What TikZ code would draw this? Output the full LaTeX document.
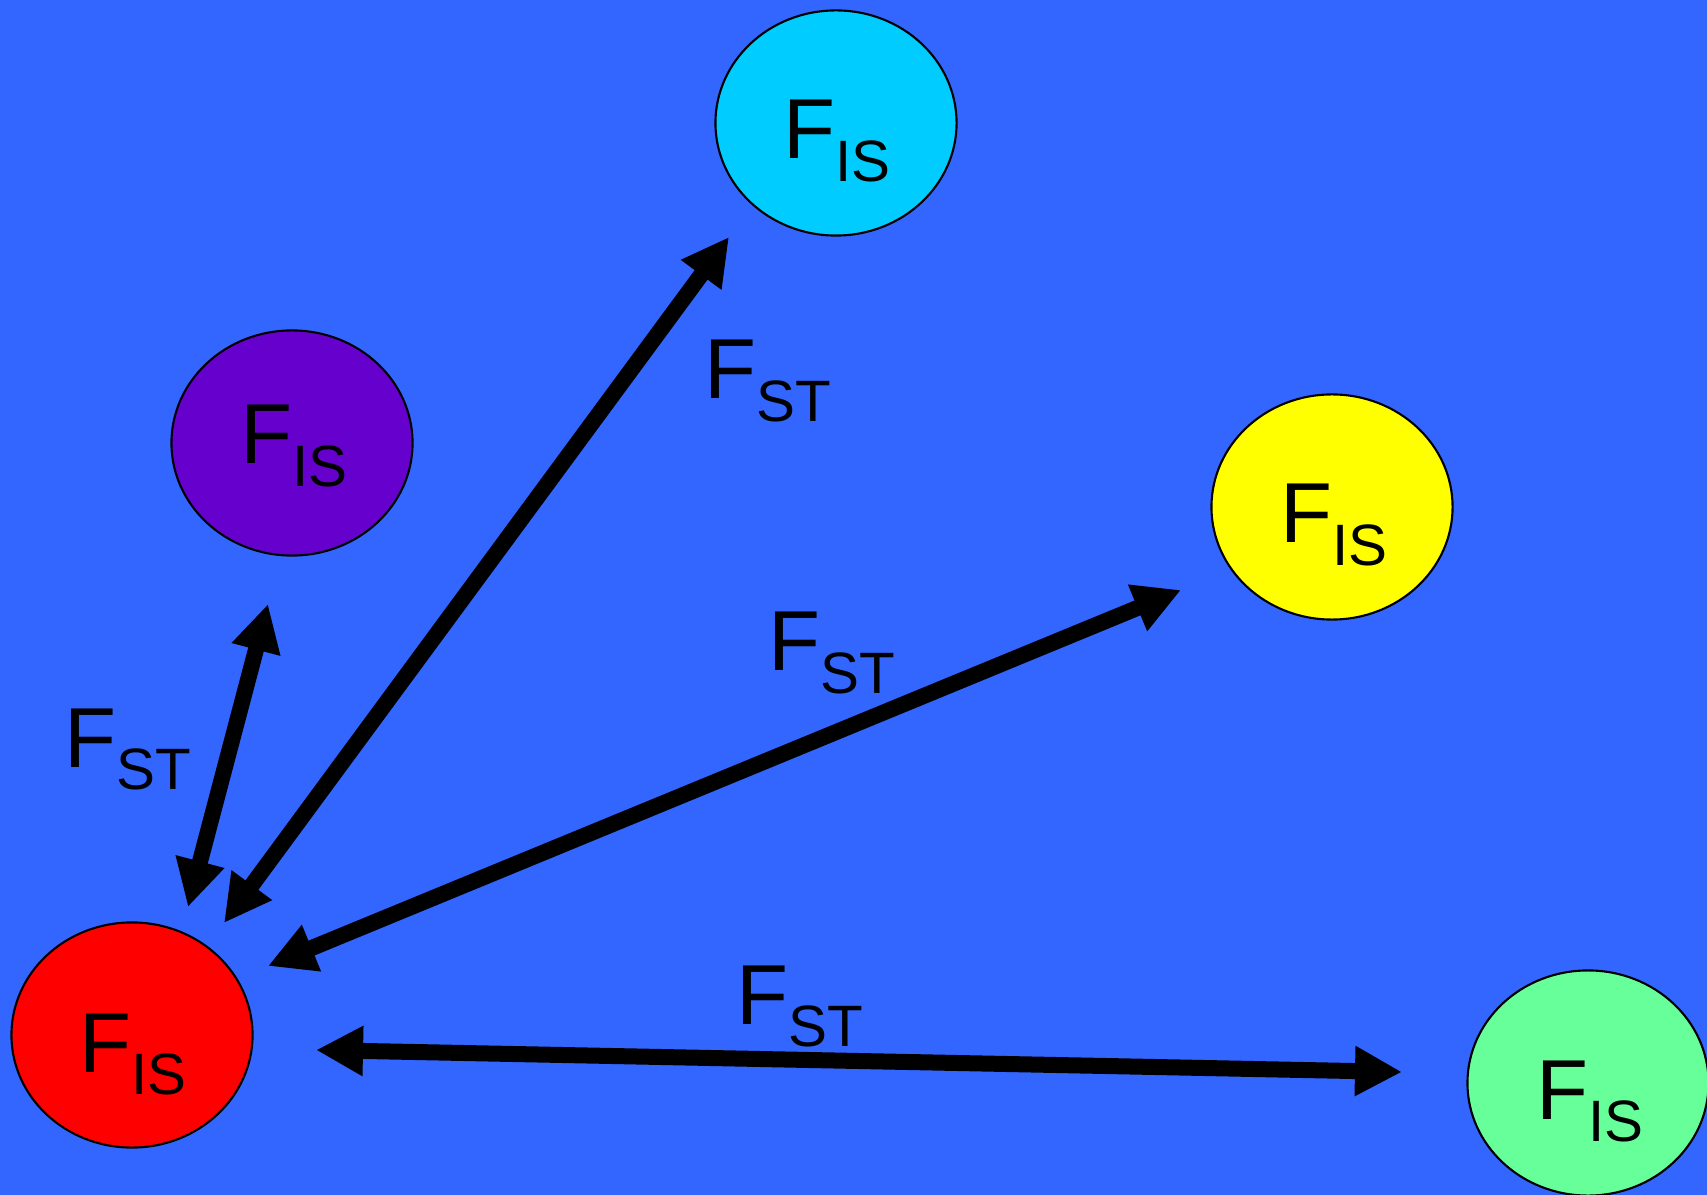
\documentclass[tikz,border=0pt]{standalone}
\usepackage{fontspec}
\setmainfont{Liberation Sans}
\usepackage{tikz}
\usetikzlibrary{arrows.meta,shapes.geometric}
\definecolor{bg}{HTML}{3366FF}
\definecolor{cy}{HTML}{00CCFF}
\definecolor{pu}{HTML}{6600CC}
\definecolor{ye}{HTML}{FFFF00}
\definecolor{rd}{HTML}{FF0000}
\definecolor{gn}{HTML}{66FF99}
\newcommand{\bigF}{\fontsize{24.2}{26}\selectfont F}
\newcommand{\subtxt}[1]{\raisebox{-0.22cm}{\fontsize{16.6}{18}\selectfont #1}}

\begin{document}
\begin{tikzpicture}[x=0.01cm,y=-0.01cm,
  pop/.style={ellipse,draw=black,line width=0.6pt,minimum width=2.41cm,minimum height=2.25cm,inner sep=0pt},
  lbl/.style={anchor=base west,inner sep=0pt},
  link/.style={{Triangle[length=0.47cm,width=0.47cm]}-{Triangle[length=0.47cm,width=0.47cm]},line width=0.16cm}]
  \useasboundingbox (0,0) rectangle (1707,1195);
  \fill[bg] (0,0) rectangle (1707,1195);
  \clip (0,0) rectangle (1707,1195);
  % populations
  \foreach \n/\x/\y/\c in {cyan/836/123/cy,purple/292/443/pu,yellow/1332/507/ye,red/132/1035/rd,green/1588/1083/gn} {
    \node[pop,fill=\c] (\n) at (\x,\y) {};
  }
  \node[lbl] (cyanF) at (783,159) {\bigF\subtxt{IS}};
  \node[lbl] (purpleF) at (240,464) {\bigF\subtxt{IS}};
  \node[lbl] (yellowF) at (1280,543) {\bigF\subtxt{IS}};
  \node[lbl] (redF) at (79,1072) {\bigF\subtxt{IS}};
  \node[lbl] (greenF) at (1536,1119) {\bigF\subtxt{IS}};
  % arrow ends
  \coordinate (pEnd) at (268,604);
  \coordinate (rEndA) at (188,907);
  \coordinate (cEnd) at (729,237);
  \coordinate (rEndB) at (224,923);
  \coordinate (yEnd) at (1181,590);
  \coordinate (rEndC) at (268,966);
  \coordinate (rEndD) at (316,1050);
  \coordinate (gEnd) at (1402,1072);
  \draw[link] (pEnd) -- (rEndA);
  \draw[link] (cEnd) -- (rEndB);
  \draw[link] (yEnd) -- (rEndC);
  \draw[link] (rEndD) -- (gEnd);
  % F_ST labels
  \node[lbl] (stA) at (704,399) {\bigF\subtxt{ST}};
  \node[lbl] (stB) at (768,671) {\bigF\subtxt{ST}};
  \node[lbl] (stC) at (64,767) {\bigF\subtxt{ST}};
  \node[lbl] (stD) at (736,1024) {\bigF\subtxt{ST}};
\end{tikzpicture}
\end{document}
